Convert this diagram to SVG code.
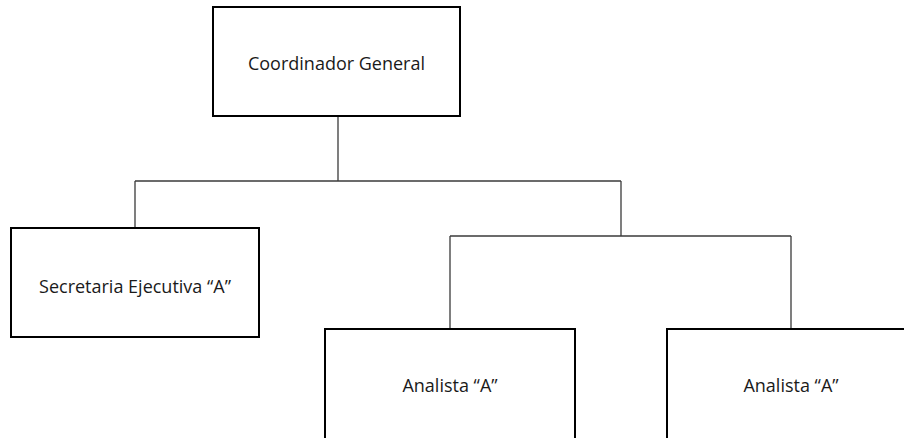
<svg xmlns="http://www.w3.org/2000/svg" width="904" height="438" viewBox="0 0 904 438">
  <style>
    .box { fill: #ffffff; stroke: #000000; stroke-width: 2; }
    .wire { fill: none; stroke: #3a3a3a; stroke-width: 1.3; }
    .label { font-family: "Open Sans", "Noto Sans", sans-serif; font-size: 18px; fill: #1a1a1a; text-anchor: middle; }
  </style>
  <rect width="904" height="438" fill="#ffffff"/>

  <!-- hierarchy connectors -->
  <g id="connectors">
    <path class="wire" d="M338,116 V181"/>
    <path class="wire" d="M135,181 H621"/>
    <path class="wire" d="M135,181 V228"/>
    <path class="wire" d="M621,181 V236"/>
    <path class="wire" d="M450,236 H791"/>
    <path class="wire" d="M450,236 V329"/>
    <path class="wire" d="M791,236 V329"/>
  </g>

  <g id="coordinador">
    <rect class="box" x="213" y="7" width="247" height="109"/>
    <text class="label" x="336.5" y="70">Coordinador General</text>
  </g>

  <g id="secretaria">
    <rect class="box" x="11" y="228" width="248" height="109"/>
    <text class="label" x="135" y="293">Secretaria Ejecutiva “A”</text>
  </g>

  <g id="analista-1">
    <rect class="box" x="325" y="329" width="250" height="120"/>
    <text class="label" x="450" y="392">Analista “A”</text>
  </g>

  <g id="analista-2">
    <rect class="box" x="667" y="329" width="250" height="120"/>
    <text class="label" x="791" y="392">Analista “A”</text>
  </g>
</svg>
